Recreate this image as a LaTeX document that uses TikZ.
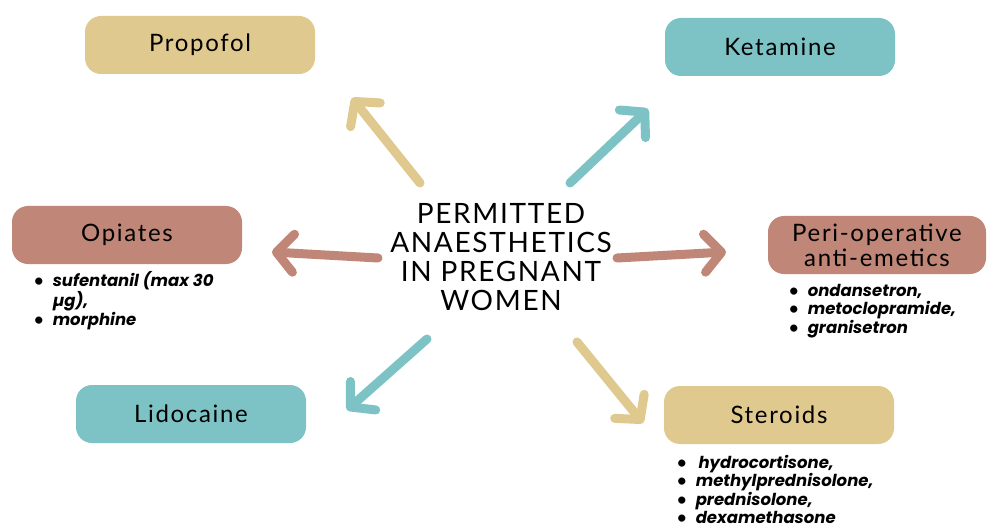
\documentclass[tikz,border=0pt]{standalone}
\usepackage{fontspec}
\setmainfont{Lato}
\newfontfamily\listfont{Poppins}
\usetikzlibrary{arrows.meta}

\definecolor{sand}{HTML}{DFC98F}
\definecolor{teal}{HTML}{7DC3C5}
\definecolor{rose}{HTML}{C08677}
\newcommand{\druglist}[1]{\begin{tabular}[t]{@{}l@{\hspace{9pt}}l@{}}#1\end{tabular}}
\newcommand{\listdot}{{\fontspec{Lato}\textbullet}}

\begin{document}
\begin{tikzpicture}[x=1pt,y=-1pt]
    \tikzstyle{drug} = [rectangle, rounded corners=16pt, minimum width=230pt, minimum height=58pt, text centered, align=center, font=\fontsize{24}{25}\selectfont\addfontfeatures{LetterSpace=7}]
    \tikzstyle{arrow} = [line width=9pt, line cap=round, -{Straight Barb[length=17pt,width=38pt,round]}]
    \tikzstyle{list} = [anchor=base west, inner sep=0pt, font=\fontsize{16.5}{18}\listfont\selectfont\bfseries\itshape]
    \useasboundingbox (0,0) rectangle (987,529);
    \fill[white] (0,0) rectangle (987,529);
    % the centre
    \node[align=center, font=\fontsize{28}{29}\selectfont\addfontfeatures{LetterSpace=6}](title) at (501,257){PERMITTED\\ANAESTHETICS\\IN PREGNANT\\WOMEN};
    % the boxes round it
    \node[drug, fill=sand](propofol) at (200,45){Propofol};
    \node[drug, fill=teal](ketamine) at (780,47){Ketamine};
    \node[drug, fill=rose](opiates) at (127,235){Opiates};
    \node[drug, fill=rose, minimum width=218pt](antiemetics) at (877,245){Peri-operative\\anti-emetics};
    \node[drug, fill=teal](lidocaine) at (191,414){Lidocaine};
    \node[drug, fill=sand](steroids) at (779,415){Steroids};
    % what is in each group
    \node[list](opiateslist) at (34,286){\druglist{\listdot & sufentanil (max 30\\ & µg),\\ \listdot & morphine}};
    \node[list](antiemeticslist) at (789,296){\druglist{\listdot & ondansetron,\\ \listdot & metoclopramide,\\ \listdot & granisetron}};
    \node[list](steroidslist) at (677,468){\druglist{\listdot & \,hydrocortisone,\\ \listdot & methylprednisolone,\\ \listdot & prednisolone,\\ \listdot & dexamethasone}};
    % arrow ends
    \coordinate (tP) at (420,183); \coordinate (hP) at (352,98);
    \coordinate (tK) at (570,183); \coordinate (hK) at (648,109);
    \coordinate (tO) at (378,258); \coordinate (hO) at (272,252);
    \coordinate (tA) at (617,258); \coordinate (hA) at (726,252);
    \coordinate (tL) at (427,339); \coordinate (hL) at (347,410);
    \coordinate (tS) at (577,342); \coordinate (hS) at (643,423);
    \draw[arrow, sand] (tP)--(hP);
    \draw[arrow, teal] (tK)--(hK);
    \draw[arrow, rose] (tO)--(hO);
    \draw[arrow, rose] (tA)--(hA);
    \draw[arrow, teal] (tL)--(hL);
    \draw[arrow, sand] (tS)--(hS);
\end{tikzpicture}
\end{document}
